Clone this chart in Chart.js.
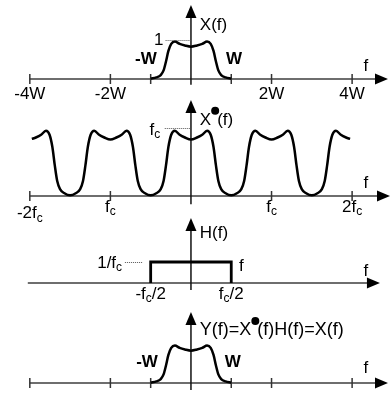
<!DOCTYPE html>
<html>
<head>
<meta charset="utf-8">
<script src="https://cdn.jsdelivr.net/npm/chart.js@4"></script>
<style>
  body { margin: 0; background: #fff; }
  canvas { display: block; }
</style>
</head>
<body>
<canvas id="spectra" width="392" height="393"></canvas>
<script>
// spectrum X(f), frequency in units of W
const xFreq = [-1, -0.86, -0.75, -0.68, -0.62, -0.56, -0.49, -0.4, -0.28, -0.15, 0,
               0.15, 0.28, 0.4, 0.49, 0.56, 0.62, 0.68, 0.75, 0.86, 1];
const xAmp  = [0.01, 0.04, 0.1, 0.22, 0.45, 0.72, 0.9, 0.96, 0.9, 0.86, 0.83,
               0.86, 0.9, 0.96, 0.9, 0.72, 0.45, 0.22, 0.1, 0.04, 0.01];

// sampled spectrum X*(f): copies every fc = 2W (amplitude in units of fc)
const xsFreq = [-3.95, -3.85, -3.72, -3.6, -3.51, -3.44, -3.38, -3.32, -3.25, -3.14, -3,
                -2.86, -2.75, -2.68, -2.62, -2.56, -2.49, -2.4, -2.28, -2.15, -2,
                -1.85, -1.72, -1.6, -1.51, -1.44, -1.38, -1.32, -1.25, -1.14, -1,
                -0.86, -0.75, -0.68, -0.62, -0.56, -0.49, -0.4, -0.28, -0.15, 0,
                0.15, 0.28, 0.4, 0.49, 0.56, 0.62, 0.68, 0.75, 0.86, 1,
                1.14, 1.25, 1.32, 1.38, 1.44, 1.51, 1.6, 1.72, 1.85, 2,
                2.15, 2.28, 2.4, 2.49, 2.56, 2.62, 2.68, 2.75, 2.86, 3,
                3.14, 3.25, 3.32, 3.38, 3.44, 3.51, 3.6, 3.72, 3.85, 3.95];
const xsAmp  = [0.84, 0.86, 0.9, 0.96, 0.9, 0.72, 0.45, 0.22, 0.1, 0.04, 0.01,
                0.04, 0.1, 0.22, 0.45, 0.72, 0.9, 0.96, 0.9, 0.86, 0.83,
                0.86, 0.9, 0.96, 0.9, 0.72, 0.45, 0.22, 0.1, 0.04, 0.01,
                0.04, 0.1, 0.22, 0.45, 0.72, 0.9, 0.96, 0.9, 0.86, 0.83,
                0.86, 0.9, 0.96, 0.9, 0.72, 0.45, 0.22, 0.1, 0.04, 0.01,
                0.04, 0.1, 0.22, 0.45, 0.72, 0.9, 0.96, 0.9, 0.86, 0.83,
                0.86, 0.9, 0.96, 0.9, 0.72, 0.45, 0.22, 0.1, 0.04, 0.01,
                0.04, 0.1, 0.22, 0.45, 0.72, 0.9, 0.96, 0.9, 0.86, 0.84];

// ideal low pass H(f), cut-off at fc/2 = W, height 1/fc
const hFreq = [-1, -1, 1, 1];
const hAmp  = [0, 1, 1, 0];

const wTicks = [-4, -2, -1, 1, 2, 4];
const wTickLabels = ['-4W', '-2W', '', '', '2W', '4W'];
const fcTicks = [-4, -2, 2, 4];
const fcTickLabels = ['-2f_c', 'f_c', 'f_c', '2f_c'];
const hEdges = [-1, 1];
const hEdgeLabels = ['-f_c/2', 'f_c/2'];

const H = 393;
// axis = pixel row of the f axis, unit = pixels per amplitude unit
const panels = [
  { id: 'y1', axis: 79,  unit: 39, from: -4,    to: 4.89, vBot: -0.15, vTop: 1.9,  ticks: wTicks },
  { id: 'y2', axis: 196, unit: 68, from: -4,    to: 4.94, vBot: -0.12, vTop: 1.41, ticks: fcTicks },
  { id: 'y3', axis: 283, unit: 21, from: -4.05, to: 4.69, vBot: -0.33, vTop: 3.1,  ticks: [] },
  { id: 'y4', axis: 383, unit: 39, from: -4,    to: 4.89, vBot: -0.18, vTop: 1.82, ticks: wTicks },
];

const FONT = '"Liberation Sans", Arial, sans-serif';

function pts(fs, as) {
  return fs.map((f, i) => ({ x: f, y: as[i] }));
}

// '_' makes next char a subscript, '*' draws the sampling dot
function richText(ctx, str, x, y, align, size, bold) {
  const parts = [];
  for (let i = 0; i < str.length; i++) {
    if (str[i] === '_') { parts.push({ t: str[i + 1], sub: true }); i++; }
    else if (str[i] === '*') parts.push({ dot: true });
    else parts.push({ t: str[i] });
  }
  const big = (bold ? 'bold ' : '') + size + 'px ' + FONT;
  const small = Math.round(size * 0.72) + 'px ' + FONT;
  let w = 0;
  parts.forEach(p => {
    if (p.dot) { p.w = 6; }
    else { ctx.font = p.sub ? small : big; p.w = ctx.measureText(p.t).width; }
    w += p.w;
  });
  let cx = align === 'center' ? x - w / 2 : align === 'right' ? x - w : x;
  ctx.textAlign = 'left';
  ctx.textBaseline = 'middle';
  ctx.fillStyle = '#000';
  parts.forEach(p => {
    if (p.dot) {
      ctx.beginPath();
      ctx.arc(cx + 4, y - 9, 4, 0, Math.PI * 2);
      ctx.fill();
    } else {
      ctx.font = p.sub ? small : big;
      ctx.fillText(p.t, cx, p.sub ? y + 5 : y);
    }
    cx += p.w;
  });
}

const axesPlugin = {
  id: 'axes',
  beforeDatasetsDraw(chart) {
    const ctx = chart.ctx;
    const xs = chart.scales.x;
    ctx.save();
    panels.forEach(p => {
      const ys = chart.scales[p.id];
      const y0 = ys.getPixelForValue(0);
      const x0 = xs.getPixelForValue(0);
      const xa = xs.getPixelForValue(p.from);
      const xb = xs.getPixelForValue(p.to);
      // f axis
      ctx.strokeStyle = '#6e6e6e';
      ctx.lineWidth = 2;
      ctx.beginPath();
      ctx.moveTo(xa, y0);
      ctx.lineTo(xb - 10, y0);
      ctx.stroke();
      ctx.fillStyle = '#000';
      ctx.beginPath();
      ctx.moveTo(xb, y0);
      ctx.lineTo(xb - 13, y0 - 5.5);
      ctx.lineTo(xb - 13, y0 + 5.5);
      ctx.closePath();
      ctx.fill();
      // ticks
      ctx.strokeStyle = '#333';
      ctx.lineWidth = 1.5;
      p.ticks.forEach(t => {
        const tx = xs.getPixelForValue(t);
        ctx.beginPath();
        ctx.moveTo(tx, y0 - 5);
        ctx.lineTo(tx, y0 + 5);
        ctx.stroke();
      });
      // amplitude axis
      const yt = ys.getPixelForValue(p.vTop);
      ctx.strokeStyle = '#111';
      ctx.lineWidth = 1.5;
      ctx.beginPath();
      ctx.moveTo(x0, ys.getPixelForValue(p.vBot));
      ctx.lineTo(x0, yt + 10);
      ctx.stroke();
      ctx.beginPath();
      ctx.moveTo(x0, yt);
      ctx.lineTo(x0 - 5.5, yt + 13);
      ctx.lineTo(x0 + 5.5, yt + 13);
      ctx.closePath();
      ctx.fill();
    });
    ctx.restore();
  },
  afterDatasetsDraw(chart) {
    const ctx = chart.ctx;
    const xs = chart.scales.x;
    const S = 17;
    ctx.save();
    const txt = (id, xv, yv, str, align, bold, size) =>
      richText(ctx, str, xs.getPixelForValue(xv), chart.scales[id].getPixelForValue(yv), align, size || S, bold);
    const dotted = (id, x1, x2, yv) => {
      const y = Math.round(chart.scales[id].getPixelForValue(yv)) + 0.5;
      ctx.strokeStyle = '#555';
      ctx.lineWidth = 1;
      ctx.setLineDash([1, 1]);
      ctx.beginPath();
      ctx.moveTo(xs.getPixelForValue(x1), y);
      ctx.lineTo(xs.getPixelForValue(x2), y);
      ctx.stroke();
      ctx.setLineDash([]);
    };

    // X(f)
    txt('y1', 0.22, 1.38, 'X(f)', 'left');
    txt('y1', -0.68, 1.0, '1', 'right');
    dotted('y1', -0.63, 0, 1);
    txt('y1', -1.12, 0.51, '-W', 'center', true);
    txt('y1', 1.07, 0.51, 'W', 'center', true);
    txt('y1', 4.34, 0.33, 'f', 'center');
    wTicks.forEach((t, i) => { if (wTickLabels[i]) txt('y1', t, -0.385, wTickLabels[i], 'center'); });

    // X*(f)
    txt('y2', 0.22, 1.12, 'X*(f)', 'left');
    txt('y2', -0.76, 0.97, 'f_c', 'right');
    dotted('y2', -0.65, 0, 1);
    txt('y2', 4.34, 0.18, 'f', 'center');
    fcTicks.forEach((t, i) => txt('y2', t, i === 0 ? -0.26 : -0.16, fcTickLabels[i], 'center'));

    // H(f)
    txt('y3', 0.22, 2.38, 'H(f)', 'left');
    txt('y3', -1.71, 0.95, '1/f_c', 'right');
    dotted('y3', -1.64, -1.19, 1);
    txt('y3', 1.19, 0.81, 'f', 'left');
    txt('y3', 4.34, 0.57, 'f', 'center');
    hEdges.forEach((t, i) => txt('y3', t, -0.52, hEdgeLabels[i], 'center'));

    // Y(f)
    txt('y4', 0.22, 1.36, 'Y(f)=X*(f)H(f)=X(f)', 'left', false, 18);
    txt('y4', -1.09, 0.54, '-W', 'center', true);
    txt('y4', 1.04, 0.54, 'W', 'center', true);
    txt('y4', 4.34, 0.38, 'f', 'center');
    ctx.restore();
  }
};

const curve = {
  showLine: true,
  borderColor: '#000',
  borderWidth: 2.5,
  pointRadius: 0,
  fill: false,
  cubicInterpolationMode: 'monotone'
};

const scales = { x: { type: 'linear', display: false, min: -4.74, max: 4.99 } };
panels.forEach(p => {
  scales[p.id] = { type: 'linear', display: false, min: -(H - p.axis) / p.unit, max: p.axis / p.unit };
});

new Chart(document.getElementById('spectra').getContext('2d'), {
  type: 'scatter',
  data: {
    datasets: [
      { ...curve, data: pts(xFreq, xAmp), yAxisID: 'y1' },
      { ...curve, data: pts(xsFreq, xsAmp), yAxisID: 'y2' },
      { ...curve, data: pts(hFreq, hAmp), yAxisID: 'y3', cubicInterpolationMode: 'default', tension: 0, borderWidth: 2.8 },
      { ...curve, data: pts(xFreq, xAmp), yAxisID: 'y4' }
    ]
  },
  options: {
    responsive: false,
    animation: false,
    devicePixelRatio: 1,
    events: [],
    layout: { padding: 0 },
    scales: scales,
    plugins: { legend: { display: false }, tooltip: { enabled: false } }
  },
  plugins: [axesPlugin]
});
</script>
</body>
</html>
